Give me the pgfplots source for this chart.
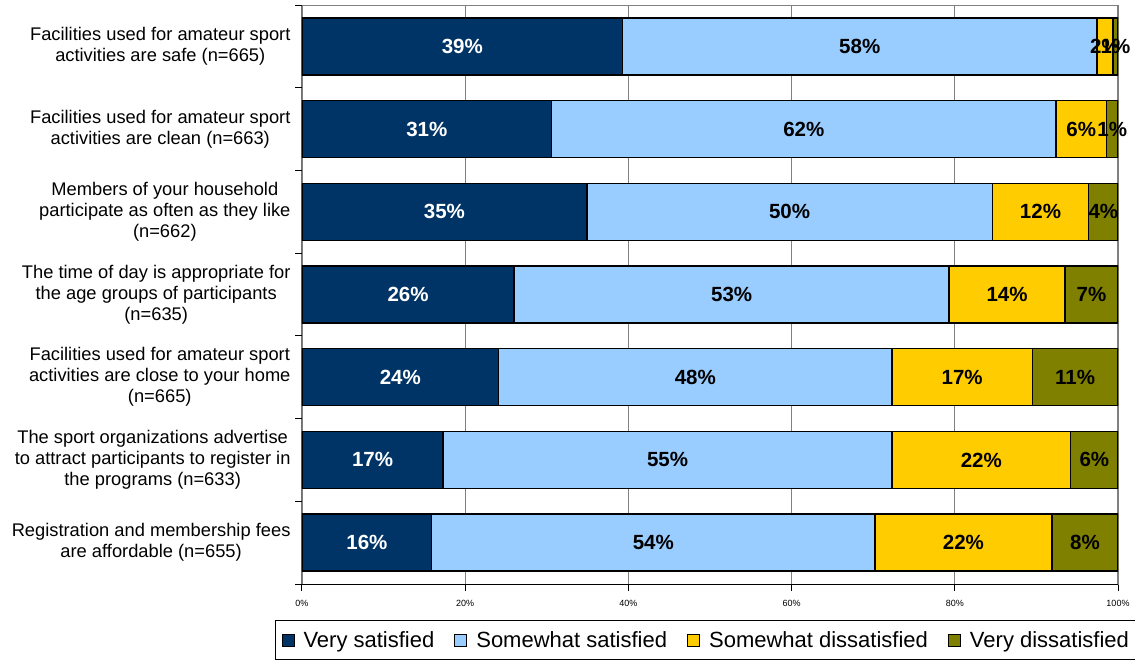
\documentclass[border=0pt]{standalone}
\usepackage{pgfplots}
\pgfplotsset{compat=1.18}
\usepackage{fontspec}
\setmainfont{Liberation Sans}

\definecolor{vsat}{RGB}{0,51,102}
\definecolor{ssat}{RGB}{153,204,255}
\definecolor{sdis}{RGB}{255,204,0}
\definecolor{vdis}{RGB}{128,128,0}

\begin{document}
\begin{tikzpicture}
\begin{axis}[
  name=ax,
  xbar stacked,
  width=816pt, height=579pt, scale only axis,
  xmin=0, xmax=100,
  ymin=0.5, ymax=7.5,
  y dir=reverse,
  bar width=57pt,
  axis line style={gray, line width=1pt},
  tick style={black, line width=1pt},
  major tick length=7pt,
  tick align=outside,
  xtick pos=bottom, ytick pos=left,
  xtick={0,20,40,60,80,100},
  xticklabels={0\%,20\%,40\%,60\%,80\%,100\%},
  xticklabel style={font=\fontsize{9}{10}\selectfont, yshift=-6pt},
  xmajorgrids,
  major grid style={gray, line width=1.2pt},
  ytick={1,...,7},
  ytick style={draw=none},
  yticklabels={
    {Facilities used for amateur sport\\activities are safe (n=665)},
    {Facilities used for amateur sport\\activities are clean (n=663)},
    {Members of your household\\participate as often as they like\\(n=662)},
    {The time of day is appropriate for\\the age groups of participants\\(n=635)},
    {Facilities used for amateur sport\\activities are close to your home\\(n=665)},
    {The sport organizations advertise\\to attract participants to register in\\the programs (n=633)},
    {Registration and membership fees\\are affordable (n=655)}},
  yticklabel style={align=center, font=\fontsize{18.3}{21}\selectfont, xshift=-1pt},
  extra y ticks={0.5,1.5,2.5,3.5,4.5,5.5,6.5,7.5},
  extra y tick labels={},
  extra y tick style={ytick style={draw=black}, grid=none},
  every node near coord/.append style={anchor=center,
    font=\fontsize{20.5}{21}\selectfont\bfseries},
  legend columns=4,
  legend style={at={(axis description cs:-27/816,-36/579)}, anchor=north west,
    draw=black, line width=1pt, font=\fontsize{22}{24}\selectfont,
    inner xsep=6pt, inner ysep=9pt,
    /tikz/every odd column/.append style={column sep=7pt},
    /tikz/every even column/.append style={column sep=18pt}},
  legend image code/.code={\draw[#1, draw=black, line width=1pt] (0pt,-6pt) rectangle (12pt,6pt);},
]
\addplot[fill=vsat, draw=black, line width=1.5pt, point meta=explicit symbolic,
  nodes near coords, nodes near coords style={text=white}]
  coordinates {(39.3,1) [39\%] (30.6,2) [31\%] (34.9,3) [35\%] (26.0,4) [26\%]
               (24.1,5) [24\%] (17.3,6) [17\%] (15.9,7) [16\%]};
\addplot[fill=ssat, draw=black, line width=1.5pt, point meta=explicit symbolic,
  nodes near coords, nodes near coords style={text=black}]
  coordinates {(58.1,1) [58\%] (61.8,2) [62\%] (49.7,3) [50\%] (53.3,4) [53\%]
               (48.2,5) [48\%] (55.0,6) [55\%] (54.3,7) [54\%]};
\addplot[fill=sdis, draw=black, line width=1.5pt, point meta=explicit symbolic,
  nodes near coords, nodes near coords style={text=black}]
  coordinates {(2.0,1) [2\%] (6.2,2) [6\%] (11.8,3) [12\%] (14.2,4) [14\%]
               (17.2,5) [17\%] (21.9,6) [22\%] (21.7,7) [22\%]};
\addplot[fill=vdis, draw=black, line width=1.5pt, point meta=explicit symbolic,
  nodes near coords, nodes near coords style={text=black}]
  coordinates {(0.6,1) [1\%] (1.4,2) [1\%] (3.6,3) [4\%] (6.5,4) [7\%]
               (10.5,5) [11\%] (5.8,6) [6\%] (8.1,7) [8\%]};
\legend{Very satisfied, Somewhat satisfied, Somewhat dissatisfied, Very dissatisfied\hspace{14pt}}
\draw[black, line width=1pt] (axis description cs:0,1) -- (axis description cs:0,0) -- (axis description cs:1,0);
\end{axis}
\pgfresetboundingbox
\path ([xshift=-302pt,yshift=-76pt]ax.south west) rectangle ([xshift=17pt,yshift=5pt]ax.north east);
\end{tikzpicture}
\end{document}
